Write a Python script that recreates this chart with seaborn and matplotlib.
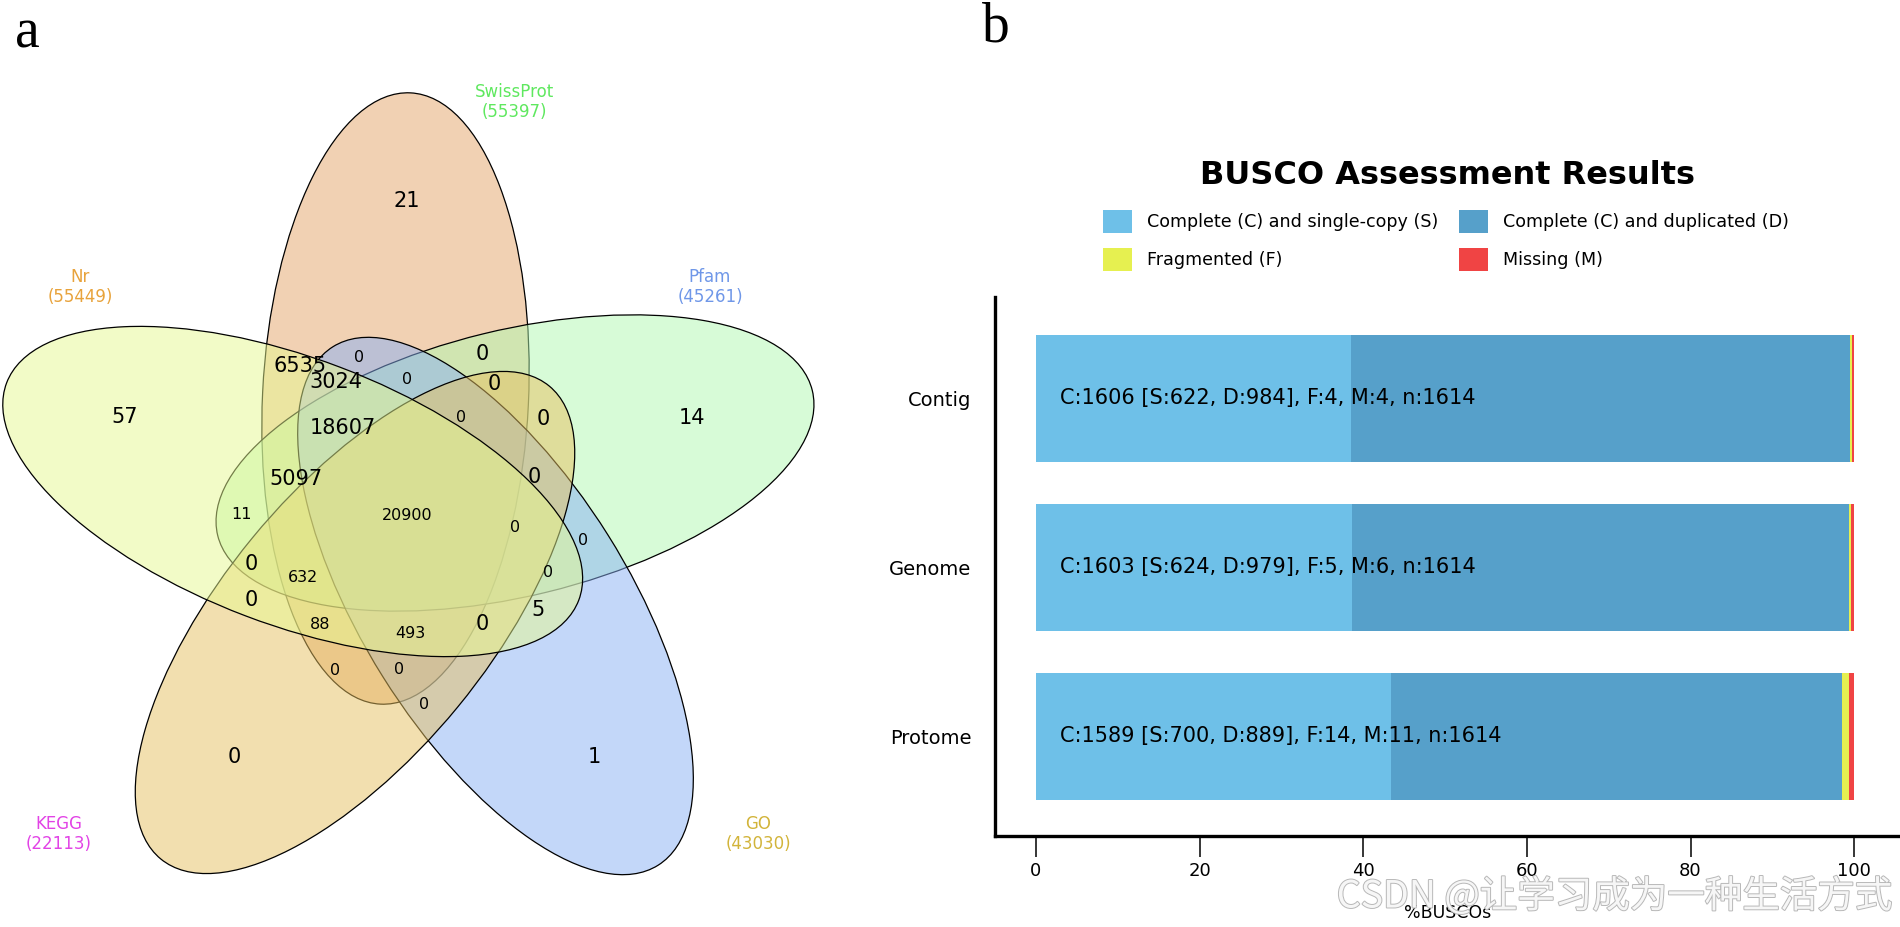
import matplotlib
matplotlib.use("Agg")
import matplotlib.pyplot as plt
from matplotlib.patches import Ellipse, Patch
import matplotlib.patheffects as pe
import numpy as np
import pandas as pd
import seaborn as sns

# ---------------- data: Venn (panel a) ----------------
set_names = ["Nr", "SwissProt", "Pfam", "GO", "KEGG"]
set_sizes = [55449, 55397, 45261, 43030, 22113]
set_label_colors = ["#e8a33c", "#5fe85f", "#6f97e8", "#d2b43a", "#e243e6"]
set_fill_colors = ["#e7f991", "#e5a569", "#b1f9b1", "#89b1f5", "#e7c161"]

region_counts = [57, 21, 14, 1, 0,
                 6535, 3024, 18607, 5097,
                 0, 0, 0, 0, 0, 0, 5, 0,
                 0, 0, 0, 11, 20900, 0, 0, 0, 632, 88, 493, 0, 0, 0]
region_big = [1] * 17 + [0] * 14

# ---------------- data: BUSCO (panel b) ----------------
busco_assemblies = ["Contig", "Genome", "Protome"]
busco_single = [622, 624, 700]
busco_duplicated = [984, 979, 889]
busco_fragmented = [4, 5, 14]
busco_missing = [4, 6, 11]
busco_total = [1614, 1614, 1614]
busco_legend = ["Complete (C) and single-copy (S)", "Complete (C) and duplicated (D)",
                "Fragmented (F)", "Missing (M)"]
busco_colors = ["#6ec0e8", "#56a0ca", "#e6f050", "#f04444"]
x_ticks = [0, 20, 40, 60, 80, 100]

# ---------------- layout (pixel positions of the reference) ----------------
ell_center = [(292.7, 491.5), (395.5, 398.5), (515, 463), (495.5, 606), (355, 622.5)]
ell_angle = [-20.8, 87.2, 13.7, -57.9, 50.6]
ell_major, ell_minor = 612, 266
draw_order = [1, 2, 3, 4, 0]   # SwissProt, Pfam, GO, KEGG, Nr
set_label_pos = [(80, 287), (514, 102), (710, 287), (758, 834), (59, 834)]
region_pos = [(124.8, 416.8), (407, 201), (692, 418), (594, 757), (234, 757),
              (300.5, 366), (335.6, 381.7), (343, 427.7), (295.7, 478.6),
              (482, 353.5), (494, 384), (542.8, 419), (534.5, 477), (250.8, 564.5),
              (251, 599.6), (538, 609.5), (482, 623.7),
              (359.5, 358), (407.3, 379), (461, 417), (241.3, 514.5), (407, 515),
              (515.3, 527), (582.8, 540.5), (548, 572.6), (302.7, 577.6), (320, 624.7),
              (410.4, 633), (334.7, 670.5), (399, 670), (424, 704.5)]

sns.set_theme(style="white")
plt.rcParams["font.family"] = ["DejaVu Sans"]
for k in ["text.color", "axes.labelcolor", "xtick.color", "ytick.color", "axes.edgecolor"]:
    plt.rcParams[k] = "black"

W, H = 1900, 927
fig = plt.figure(figsize=(W / 100, H / 100), dpi=100)

# ---------------- panel a: Venn ----------------
ax1 = fig.add_axes([0, 0, 950 / W, 1])
ax1.set_xlim(0, 950)
ax1.set_ylim(927, 0)
ax1.axis("off")
for z, i in enumerate(draw_order):
    r, g, b = matplotlib.colors.to_rgb(set_fill_colors[i])
    e = Ellipse(ell_center[i], ell_major, ell_minor, angle=-ell_angle[i],
                facecolor=(r, g, b, 0.5), edgecolor="black", linewidth=0.9, zorder=z + 1)
    ax1.add_patch(e)
for name, size, col, (x, y) in zip(set_names, set_sizes, set_label_colors, set_label_pos):
    ax1.text(x, y, f"{name}\n({size})", ha="center", va="center", fontsize=12,
             color=col, linespacing=1.08, zorder=10)
for cnt, big, (x, y) in zip(region_counts, region_big, region_pos):
    ax1.text(x, y, str(cnt), ha="center", va="center", fontsize=15 if big else 11.5,
             color="black", zorder=10)

# ---------------- panel b: BUSCO ----------------
tot = np.array(busco_total, dtype=float)
pS = np.array(busco_single) / tot * 100
pD = np.array(busco_duplicated) / tot * 100
pF = np.array(busco_fragmented) / tot * 100
pM = np.array(busco_missing) / tot * 100
df = pd.DataFrame({"assembly": busco_assemblies,
                   "S": pS, "SD": pS + pD, "SDF": pS + pD + pF, "SDFM": pS + pD + pF + pM})

ax2 = fig.add_axes([995 / W, (H - 836) / H, (W - 995) / W, (836 - 297) / H])
for col, color in [("SDFM", busco_colors[3]), ("SDF", busco_colors[2]),
                   ("SD", busco_colors[1]), ("S", busco_colors[0])]:
    sns.barplot(data=df, x=col, y="assembly", orient="h", order=busco_assemblies,
                color=color, saturation=1, width=0.75, linewidth=0, ax=ax2)
for i in range(len(busco_assemblies)):
    lbl = (f"C:{busco_single[i] + busco_duplicated[i]} [S:{busco_single[i]}, "
           f"D:{busco_duplicated[i]}], F:{busco_fragmented[i]}, M:{busco_missing[i]}, "
           f"n:{busco_total[i]}")
    ax2.text(3, i, lbl, ha="left", va="center", fontsize=15, color="black")
ax2.set_xlim(-5, 105.6)
ax2.set_ylim(2.59, -0.6)
ax2.set_xticks(x_ticks)
ax2.set_xticklabels([str(t) for t in x_ticks])
ax2.tick_params(axis="x", length=15, width=1.1, color="black", labelsize=13, pad=4, bottom=True)
ax2.tick_params(axis="y", length=0, labelsize=14, pad=17, colors="black")
ax2.set_ylabel("")
ax2.set_xlabel("%BUSCOs", fontsize=12.5, labelpad=17)
for s in ["top", "right"]:
    ax2.spines[s].set_visible(False)
for s in ["left", "bottom"]:
    ax2.spines[s].set_color("black")
    ax2.spines[s].set_linewidth(2.4)

fig.text(1447 / W, 1 - 175.5 / H, "BUSCO Assessment Results", ha="center", va="center",
         fontsize=23, fontweight="bold", color="black")
handles = [Patch(facecolor=c, edgecolor="none") for c in busco_colors]
leg_order = [0, 2, 1, 3]   # fills rows: S, D / F, M
fig.legend([handles[k] for k in leg_order], [busco_legend[k] for k in leg_order],
           ncol=2, loc="upper left", bbox_to_anchor=(1103 / W, 1 - 210 / H), frameon=False,
           fontsize=12.6, handlelength=1.66, handleheight=1.66, handletextpad=0.86,
           columnspacing=1.2, labelspacing=0.85, borderpad=0, borderaxespad=0)

# panel letters
fig.text(27 / W, 1 - 33 / H, "a", fontsize=40, family="Liberation Serif", ha="center", va="center")
fig.text(996 / W, 1 - 28 / H, "b", fontsize=40, family="Liberation Serif", ha="center", va="center")

# watermark
fig.text(1892 / W, 1 - 897 / H, "CSDN @让学习成为一种生活方式", ha="right", va="center",
         fontsize=27, color="#f6f6f6", family=["Noto Sans CJK SC", "DejaVu Sans"],
         path_effects=[pe.withStroke(linewidth=1.4, foreground="#b8b8b8")], zorder=20)

fig.savefig("out.png", dpi=100)
